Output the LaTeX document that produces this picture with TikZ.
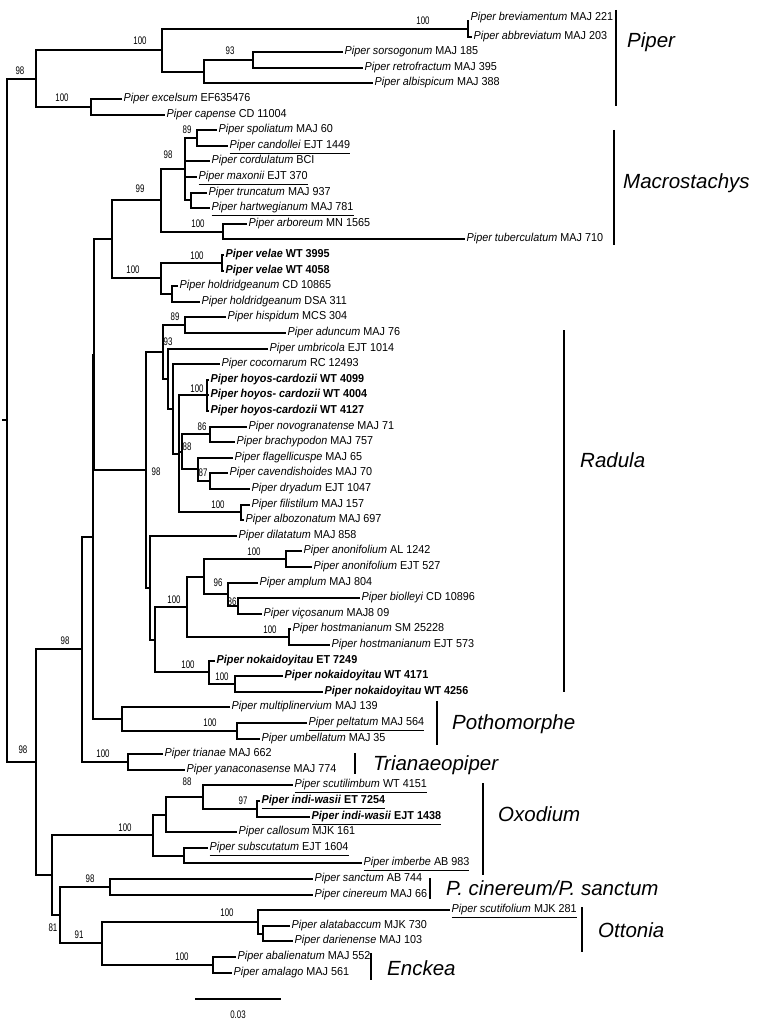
\documentclass[tikz,border=0pt]{standalone}
\usepackage{fontspec}
\setmainfont{Liberation Sans}
\newfontfamily\narrowfont[FakeStretch=0.72]{Liberation Sans}
\newfontfamily\leaffamily[FakeStretch=0.94]{Liberation Sans}
\newcommand{\leaffont}{\leaffamily\fontsize{11.5}{13}\selectfont}
\newcommand{\bsfont}{\narrowfont\fontsize{11}{12}\selectfont}
\newcommand{\cladefont}{\fontsize{20.5}{24}\selectfont\itshape}
\newcommand{\pipr}[2]{\textit{Piper #1} #2}
\tikzset{
  br/.style={line width=1.8pt},
  cbar/.style={line width=1.8pt},
  leaf/.style={anchor=west, inner sep=1.5pt, font=\leaffont, text height=8.4pt, text depth=2.5pt},
  bs/.style={inner sep=0pt, font=\bsfont},
  clade/.style={anchor=west, inner sep=0pt, font=\cladefont},
}
\begin{document}
\begin{tikzpicture}[x=1pt,y=-1pt]
\useasboundingbox (0,0) rectangle (756,1027);
% ---------- leaf tips ----------
\coordinate (t1) at (469,21);
\coordinate (t2) at (472,37);
\coordinate (t3) at (343,52);
\coordinate (t4) at (363,68);
\coordinate (t5) at (373,83);
\coordinate (t6) at (122,99);
\coordinate (t7) at (165,115);
\coordinate (t8) at (217,130);
\coordinate (t9) at (228,146);
\coordinate (t10) at (210,161);
\coordinate (t11) at (197,177);
\coordinate (t12) at (207,193);
\coordinate (t13) at (210,208);
\coordinate (t14) at (247,224);
\coordinate (t15) at (465,239);
\coordinate (t16) at (224,255);
\coordinate (t17) at (224,271);
\coordinate (t18) at (178,286);
\coordinate (t19) at (200,302);
\coordinate (t20) at (226,317);
\coordinate (t21) at (286,333);
\coordinate (t22) at (268,349);
\coordinate (t23) at (220,364);
\coordinate (t24) at (209,380);
\coordinate (t25) at (209,395);
\coordinate (t26) at (209,411);
\coordinate (t27) at (247,427);
\coordinate (t28) at (235,442);
\coordinate (t29) at (233,458);
\coordinate (t30) at (228,473);
\coordinate (t31) at (250,489);
\coordinate (t32) at (250,505);
\coordinate (t33) at (244,520);
\coordinate (t34) at (237,536);
\coordinate (t35) at (302,551);
\coordinate (t36) at (312,567);
\coordinate (t37) at (258,583);
\coordinate (t38) at (360,598);
\coordinate (t39) at (262,614);
\coordinate (t40) at (291,629);
\coordinate (t41) at (330,645);
\coordinate (t42) at (215,661);
\coordinate (t43) at (283,676);
\coordinate (t44) at (323,692);
\coordinate (t45) at (230,707);
\coordinate (t46) at (307,723);
\coordinate (t47) at (260,739);
\coordinate (t48) at (163,754);
\coordinate (t49) at (185,770);
\coordinate (t50) at (293,785);
\coordinate (t51) at (260,801);
\coordinate (t52) at (310,817);
\coordinate (t53) at (237,832);
\coordinate (t54) at (208,848);
\coordinate (t55) at (362,863);
\coordinate (t56) at (313,879);
\coordinate (t57) at (313,895);
\coordinate (t58) at (450,910);
\coordinate (t59) at (290,926);
\coordinate (t60) at (293,941);
\coordinate (t61) at (236,957);
\coordinate (t62) at (232,973);
% ---------- internal nodes ----------
\coordinate (nBA) at (468,29);
\coordinate (nSR) at (253,60);
\coordinate (nSRA) at (204,72);
\coordinate (nPiper) at (162,50);
\coordinate (nEC) at (91,107);
\coordinate (n98t) at (36,79);
\coordinate (root) at (7,420);
\coordinate (rootstub) at (2,420);
\coordinate (n89a) at (197,138);
\coordinate (nTH) at (191,200);
\coordinate (n98m) at (185,169);
\coordinate (nAT) at (223,232);
\coordinate (n99) at (161,200);
\coordinate (nVel) at (222,263);
\coordinate (nHold) at (172,294);
\coordinate (nVH) at (161,278);
\coordinate (n112) at (112,239);
\coordinate (n89r) at (185,325);
\coordinate (nHoy) at (207,395);
\coordinate (n86) at (210,434);
\coordinate (n87) at (210,481);
\coordinate (n88) at (198,469);
\coordinate (n182) at (182,452);
\coordinate (nFil) at (241,512);
\coordinate (a4) at (179,454);
\coordinate (a3) at (173,409);
\coordinate (a2) at (168,379);
\coordinate (a1) at (163,352);
\coordinate (nAno) at (286,559);
\coordinate (n86b) at (238,606);
\coordinate (n96) at (228,594);
\coordinate (n204) at (204,577);
\coordinate (nHost) at (289,637);
\coordinate (n187) at (187,607);
\coordinate (nNk2) at (235,684);
\coordinate (nNk) at (209,672);
\coordinate (n155) at (155,640);
\coordinate (nB) at (150,588);
\coordinate (nRad) at (146,470);
\coordinate (n95) at (94,355);
\coordinate (nPoPel) at (237,731);
\coordinate (nPoth) at (122,719);
\coordinate (n93) at (93,537);
\coordinate (nTri) at (128,762);
\coordinate (n82) at (82,649);
\coordinate (n97) at (257,809);
\coordinate (n88o) at (203,797);
\coordinate (n166) at (166,815);
\coordinate (nSI) at (184,856);
\coordinate (nOx) at (153,835);
\coordinate (nPC) at (110,887);
\coordinate (nAD) at (263,934);
\coordinate (nOtt) at (258,922);
\coordinate (nEnk) at (213,965);
\coordinate (n91) at (102,943);
\coordinate (n60) at (60,915);
\coordinate (n52) at (52,875);
\coordinate (n36b) at (36,762);
% ---------- branches ----------
\draw[br] (t1) -| (nBA) |- (t2);
\draw[br] (t3) -| (nSR) |- (t4);
\draw[br] (nSR) -| (nSRA) |- (t5);
\draw[br] (nBA) -| (nPiper) |- (nSRA);
\draw[br] (t6) -| (nEC) |- (t7);
\draw[br] (nPiper) -| (n98t) |- (nEC);
\draw[br] (n98t) -| (root) |- (n36b);
\draw[br] (rootstub) -- (root);
\draw[br] (t8) -| (n89a) |- (t9);
\draw[br] (t12) -| (nTH) |- (t13);
\draw[br] (n89a) -| (n98m) |- (nTH);
\draw[br] (n98m |- t10) -- (t10);
\draw[br] (n98m |- t11) -- (t11);
\draw[br] (t14) -| (nAT) |- (t15);
\draw[br] (n98m) -| (n99) |- (nAT);
\draw[br] (t16) -| (nVel) |- (t17);
\draw[br] (t18) -| (nHold) |- (t19);
\draw[br] (nVel) -| (nVH) |- (nHold);
\draw[br] (n99) -| (n112) |- (nVH);
\draw[br] (t20) -| (n89r) |- (t21);
\draw[br] (t24) -| (nHoy) |- (t26);
\draw[br] (nHoy |- t25) -- (t25);
\draw[br] (t27) -| (n86) |- (t28);
\draw[br] (t30) -| (n87) |- (t31);
\draw[br] (t29) -| (n88) |- (n87);
\draw[br] (n86) -| (n182) |- (n88);
\draw[br] (t32) -| (nFil) |- (t33);
\draw[br] (nHoy) -| (a4) |- (nFil);
\draw[br] (a4 |- n182) -- (n182);
\draw[br] (t23) -| (a3) |- (a4);
\draw[br] (t22) -| (a2) |- (a3);
\draw[br] (n89r) -| (a1) |- (a2);
\draw[br] (t35) -| (nAno) |- (t36);
\draw[br] (t38) -| (n86b) |- (t39);
\draw[br] (t37) -| (n96) |- (n86b);
\draw[br] (nAno) -| (n204) |- (n96);
\draw[br] (t40) -| (nHost) |- (t41);
\draw[br] (n204) -| (n187) |- (nHost);
\draw[br] (t43) -| (nNk2) |- (t44);
\draw[br] (t42) -| (nNk) |- (nNk2);
\draw[br] (n187) -| (n155) |- (nNk);
\draw[br] (t34) -| (nB) |- (n155);
\draw[br] (a1) -| (nRad) |- (nB);
\draw[br] (n112) -| (n95) |- (nRad);
\draw[br] (t46) -| (nPoPel) |- (t47);
\draw[br] (t45) -| (nPoth) |- (nPoPel);
\draw[br] (n95) -| (n93) |- (nPoth);
\draw[br] (t48) -| (nTri) |- (t49);
\draw[br] (n93) -| (n82) |- (nTri);
\draw[br] (t51) -| (n97) |- (t52);
\draw[br] (t50) -| (n88o) |- (n97);
\draw[br] (n88o) -| (n166) |- (t53);
\draw[br] (t54) -| (nSI) |- (t55);
\draw[br] (n166) -| (nOx) |- (nSI);
\draw[br] (t56) -| (nPC) |- (t57);
\draw[br] (t59) -| (nAD) |- (t60);
\draw[br] (t58) -| (nOtt) |- (nAD);
\draw[br] (t61) -| (nEnk) |- (t62);
\draw[br] (nOtt) -| (n91) |- (nEnk);
\draw[br] (nPC) -| (n60) |- (n91);
\draw[br] (nOx) -| (n52) |- (n60);
\draw[br] (n82) -| (n36b) |- (n52);
% ---------- leaf labels ----------
\node[leaf, yshift=3.5pt] (l1) at (t1) {\pipr{breviamentum}{MAJ 221}};
\node[leaf] (l2) at (t2) {\pipr{abbreviatum}{MAJ 203}};
\node[leaf] (l3) at (t3) {\pipr{sorsogonum}{MAJ 185}};
\node[leaf] (l4) at (t4) {\pipr{retrofractum}{MAJ 395}};
\node[leaf] (l5) at (t5) {\pipr{albispicum}{MAJ 388}};
\node[leaf] (l6) at (t6) {\pipr{excelsum}{EF635476}};
\node[leaf] (l7) at (t7) {\pipr{capense}{CD 11004}};
\node[leaf] (l8) at (t8) {\pipr{spoliatum}{MAJ 60}};
\node[leaf] (l9) at (t9) {\underline{\pipr{candollei}{EJT 1449}}};
\node[leaf] (l10) at (t10) {\pipr{cordulatum}{BCI}};
\node[leaf] (l11) at (t11) {\underline{\pipr{maxonii}{EJT 370}}};
\node[leaf] (l12) at (t12) {\pipr{truncatum}{MAJ 937}};
\node[leaf] (l13) at (t13) {\underline{\pipr{hartwegianum}{MAJ 781}}};
\node[leaf] (l14) at (t14) {\pipr{arboreum}{MN 1565}};
\node[leaf] (l15) at (t15) {\pipr{tuberculatum}{MAJ 710}};
\node[leaf] (l16) at (t16) {\bfseries\pipr{velae}{WT 3995}};
\node[leaf] (l17) at (t17) {\bfseries\pipr{velae}{WT 4058}};
\node[leaf] (l18) at (t18) {\pipr{holdridgeanum}{CD 10865}};
\node[leaf] (l19) at (t19) {\pipr{holdridgeanum}{DSA 311}};
\node[leaf] (l20) at (t20) {\pipr{hispidum}{MCS 304}};
\node[leaf] (l21) at (t21) {\pipr{aduncum}{MAJ 76}};
\node[leaf] (l22) at (t22) {\pipr{umbricola}{EJT 1014}};
\node[leaf] (l23) at (t23) {\pipr{cocornarum}{RC 12493}};
\node[leaf] (l24) at (t24) {\bfseries\pipr{hoyos-cardozii}{WT 4099}};
\node[leaf] (l25) at (t25) {\bfseries\pipr{hoyos- cardozii}{WT 4004}};
\node[leaf] (l26) at (t26) {\bfseries\pipr{hoyos-cardozii}{WT 4127}};
\node[leaf] (l27) at (t27) {\pipr{novogranatense}{MAJ 71}};
\node[leaf] (l28) at (t28) {\pipr{brachypodon}{MAJ 757}};
\node[leaf] (l29) at (t29) {\pipr{flagellicuspe}{MAJ 65}};
\node[leaf] (l30) at (t30) {\pipr{cavendishoides}{MAJ 70}};
\node[leaf] (l31) at (t31) {\pipr{dryadum}{EJT 1047}};
\node[leaf] (l32) at (t32) {\pipr{filistilum}{MAJ 157}};
\node[leaf] (l33) at (t33) {\pipr{albozonatum}{MAJ 697}};
\node[leaf] (l34) at (t34) {\pipr{dilatatum}{MAJ 858}};
\node[leaf] (l35) at (t35) {\pipr{anonifolium}{AL 1242}};
\node[leaf] (l36) at (t36) {\pipr{anonifolium}{EJT 527}};
\node[leaf] (l37) at (t37) {\pipr{amplum}{MAJ 804}};
\node[leaf] (l38) at (t38) {\pipr{biolleyi}{CD 10896}};
\node[leaf] (l39) at (t39) {\pipr{viçosanum}{MAJ8 09}};
\node[leaf] (l40) at (t40) {\pipr{hostmanianum}{SM 25228}};
\node[leaf] (l41) at (t41) {\pipr{hostmanianum}{EJT 573}};
\node[leaf] (l42) at (t42) {\bfseries\pipr{nokaidoyitau}{ET 7249}};
\node[leaf] (l43) at (t43) {\bfseries\pipr{nokaidoyitau}{WT 4171}};
\node[leaf] (l44) at (t44) {\bfseries\pipr{nokaidoyitau}{WT 4256}};
\node[leaf] (l45) at (t45) {\pipr{multiplinervium}{MAJ 139}};
\node[leaf] (l46) at (t46) {\underline{\pipr{peltatum}{MAJ 564}}};
\node[leaf] (l47) at (t47) {\pipr{umbellatum}{MAJ 35}};
\node[leaf] (l48) at (t48) {\pipr{trianae}{MAJ 662}};
\node[leaf] (l49) at (t49) {\pipr{yanaconasense}{MAJ 774}};
\node[leaf] (l50) at (t50) {\underline{\pipr{scutilimbum}{WT 4151}}};
\node[leaf] (l51) at (t51) {\bfseries\underline{\pipr{indi-wasii}{ET 7254}}};
\node[leaf] (l52) at (t52) {\bfseries\underline{\pipr{indi-wasii}{EJT 1438}}};
\node[leaf] (l53) at (t53) {\pipr{callosum}{MJK 161}};
\node[leaf] (l54) at (t54) {\underline{\pipr{subscutatum}{EJT 1604}}};
\node[leaf] (l55) at (t55) {\underline{\pipr{imberbe}{AB 983}}};
\node[leaf] (l56) at (t56) {\pipr{sanctum}{AB 744}};
\node[leaf] (l57) at (t57) {\pipr{cinereum}{MAJ 66}};
\node[leaf] (l58) at (t58) {\underline{\pipr{scutifolium}{MJK 281}}};
\node[leaf] (l59) at (t59) {\pipr{alatabaccum}{MJK 730}};
\node[leaf] (l60) at (t60) {\pipr{darienense}{MAJ 103}};
\node[leaf] (l61) at (t61) {\pipr{abalienatum}{MAJ 552}};
\node[leaf] (l62) at (t62) {\pipr{amalago}{MAJ 561}};
% ---------- bootstrap values ----------
\node[bs] (b1) at (423,21) {100};
\node[bs] (b2) at (140,41) {100};
\node[bs] (b3) at (230,51) {93};
\node[bs] (b4) at (20,71) {98};
\node[bs] (b5) at (62,98) {100};
\node[bs] (b6) at (187,130) {89};
\node[bs] (b7) at (168,155) {98};
\node[bs] (b8) at (140,189) {99};
\node[bs] (b9) at (198,224) {100};
\node[bs] (b10) at (197,256) {100};
\node[bs] (b11) at (133,270) {100};
\node[bs] (b12) at (175,317) {89};
\node[bs] (b13) at (168,342) {93};
\node[bs] (b14) at (197,389) {100};
\node[bs] (b15) at (202,427) {86};
\node[bs] (b16) at (187,447) {88};
\node[bs] (b17) at (203,473) {87};
\node[bs] (b18) at (218,505) {100};
\node[bs] (b19) at (156,472) {98};
\node[bs] (b20) at (254,552) {100};
\node[bs] (b21) at (218,583) {96};
\node[bs] (b22) at (232,602) {86};
\node[bs] (b23) at (174,600) {100};
\node[bs] (b24) at (270,630) {100};
\node[bs] (b25) at (188,665) {100};
\node[bs] (b26) at (222,677) {100};
\node[bs] (b27) at (210,723) {100};
\node[bs] (b28) at (103,754) {100};
\node[bs] (b29) at (65,641) {98};
\node[bs] (b30) at (23,750) {98};
\node[bs] (b31) at (187,782) {88};
\node[bs] (b32) at (243,801) {97};
\node[bs] (b33) at (125,828) {100};
\node[bs] (b34) at (90,879) {98};
\node[bs] (b35) at (53,928) {81};
\node[bs] (b36) at (79,935) {91};
\node[bs] (b37) at (227,913) {100};
\node[bs] (b38) at (182,957) {100};
% ---------- clade bars ----------
\coordinate (cp1) at (616,10); \coordinate (cp2) at (616,106);
\draw[cbar] (cp1) -- (cp2);
\node[clade] (cpl) at (627,42) {Piper};
\coordinate (cm1) at (614,130); \coordinate (cm2) at (614,245);
\draw[cbar] (cm1) -- (cm2);
\node[clade] (cml) at (623,183) {Macrostachys};
\coordinate (cr1) at (564,330); \coordinate (cr2) at (564,692);
\draw[cbar] (cr1) -- (cr2);
\node[clade] (crl) at (580,460) {Radula};
\coordinate (cpo1) at (437,701); \coordinate (cpo2) at (437,745);
\draw[cbar] (cpo1) -- (cpo2);
\node[clade] (cpol) at (452,724) {Pothomorphe};
\coordinate (ct1) at (355,753); \coordinate (ct2) at (355,774);
\draw[cbar] (ct1) -- (ct2);
\node[clade] (ctl) at (373,765) {Trianaeopiper};
\coordinate (co1) at (483,783); \coordinate (co2) at (483,875);
\draw[cbar] (co1) -- (co2);
\node[clade] (col) at (498,814) {Oxodium};
\coordinate (cc1) at (430,878); \coordinate (cc2) at (430,899);
\draw[cbar] (cc1) -- (cc2);
\node[clade] (ccl) at (446,888) {P. cinereum/P. sanctum};
\coordinate (cot1) at (582,907); \coordinate (cot2) at (582,952);
\draw[cbar] (cot1) -- (cot2);
\node[clade] (cotl) at (598,930) {Ottonia};
\coordinate (ce1) at (371,953); \coordinate (ce2) at (371,980);
\draw[cbar] (ce1) -- (ce2);
\node[clade] (cel) at (387,968) {Enckea};
% ---------- scale bar ----------
\coordinate (sb1) at (195,999); \coordinate (sb2) at (281,999);
\draw[br] (sb1) -- (sb2);
\node[bs] (sbl) at (238,1015) {0.03};
\end{tikzpicture}
\end{document}
